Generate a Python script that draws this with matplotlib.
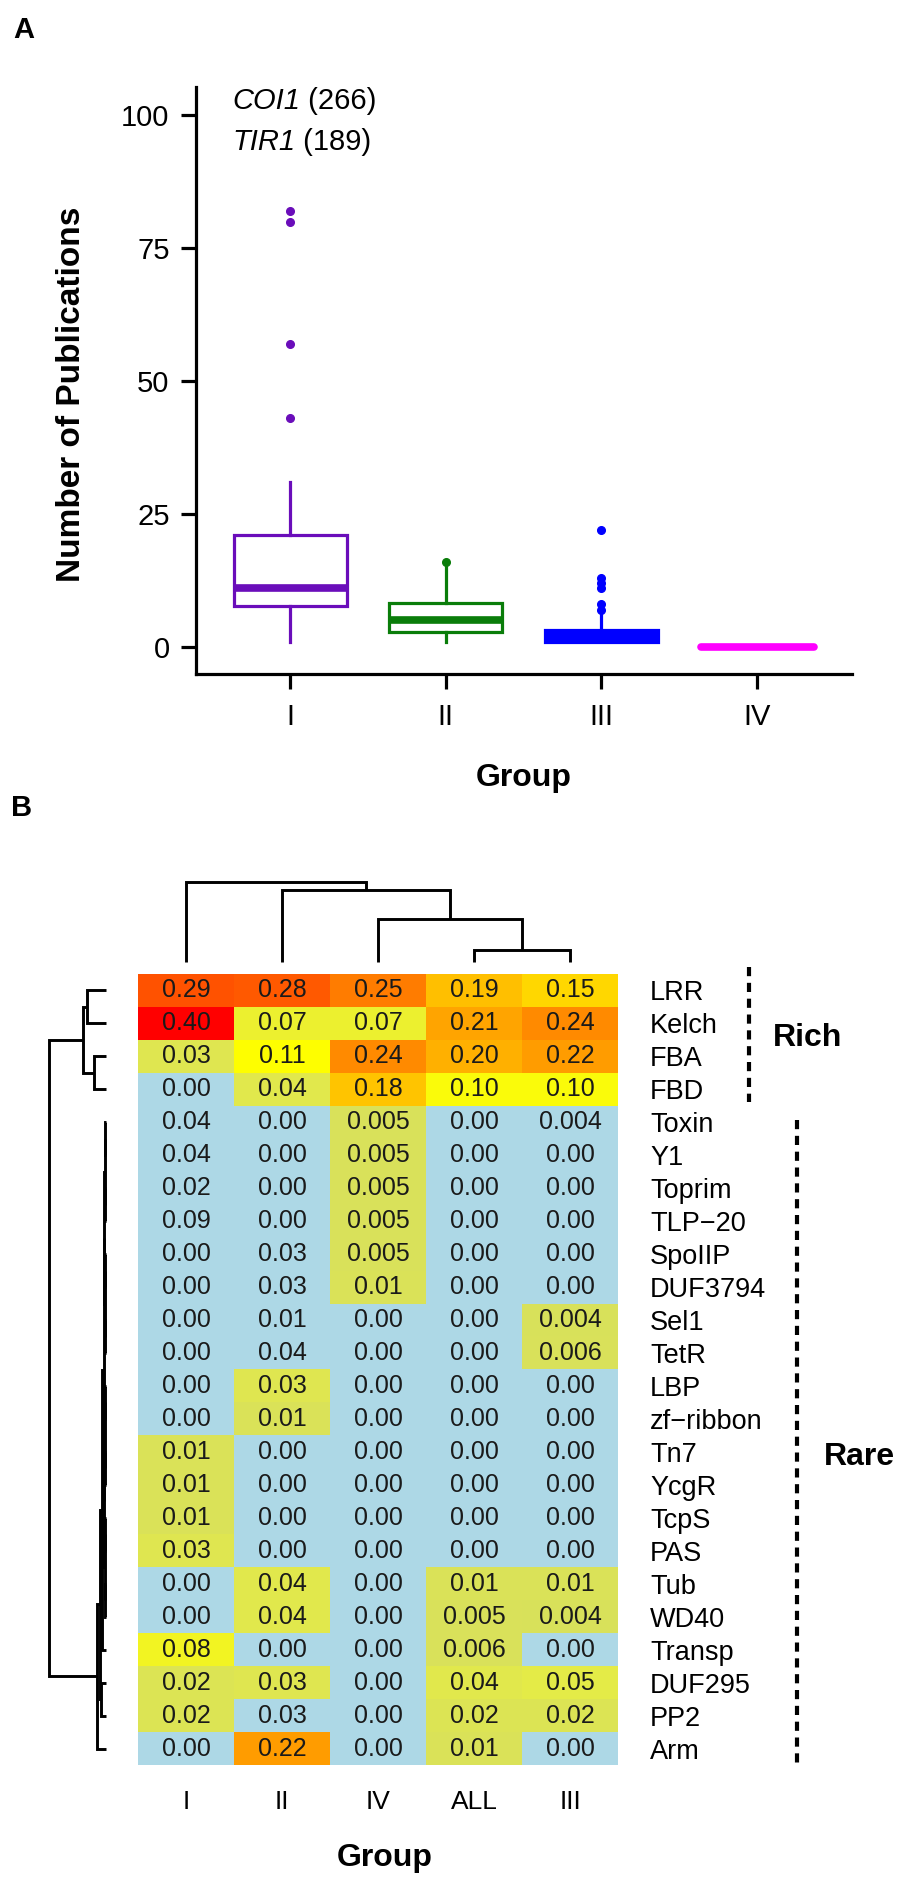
import numpy as np
import matplotlib
matplotlib.use("Agg")
import matplotlib.pyplot as plt
from matplotlib.colors import LinearSegmentedColormap, to_rgba

plt.rcParams['font.family'] = ['Liberation Sans', 'DejaVu Sans']

# ---------------- panel A: publications per group ----------------
groups = ['I', 'II', 'III', 'IV']
box_colors = ['#6a0dba', '#0a7d0a', '#0000ff', '#ff00ff']
q1 = [7.6, 2.8, 1.0, 0.0]
med = [11.0, 5.0, 2.0, 0.0]
q3 = [21.0, 8.2, 3.2, 0.0]
whis_lo = [1.0, 1.0, 1.0, 0.0]
whis_hi = [31.0, 15.0, 6.0, 0.0]
outliers = [[43, 57, 80, 82], [16], [7, 8, 11, 12, 13, 22], []]

# ---------------- panel B: domain frequency heatmap ----------------
hm_cols = ['I', 'II', 'IV', 'ALL', 'III']
domains = ['LRR', 'Kelch', 'FBA', 'FBD', 'Toxin', 'Y1', 'Toprim', 'TLP\u221220',
           'SpoIIP', 'DUF3794', 'Sel1', 'TetR', 'LBP', 'zf\u2212ribbon', 'Tn7',
           'YcgR', 'TcpS', 'PAS', 'Tub', 'WD40', 'Transp', 'DUF295', 'PP2', 'Arm']
cells = [
    ['0.29', '0.28', '0.25', '0.19', '0.15'],
    ['0.40', '0.07', '0.07', '0.21', '0.24'],
    ['0.03', '0.11', '0.24', '0.20', '0.22'],
    ['0.00', '0.04', '0.18', '0.10', '0.10'],
    ['0.04', '0.00', '0.005', '0.00', '0.004'],
    ['0.04', '0.00', '0.005', '0.00', '0.00'],
    ['0.02', '0.00', '0.005', '0.00', '0.00'],
    ['0.09', '0.00', '0.005', '0.00', '0.00'],
    ['0.00', '0.03', '0.005', '0.00', '0.00'],
    ['0.00', '0.03', '0.01', '0.00', '0.00'],
    ['0.00', '0.01', '0.00', '0.00', '0.004'],
    ['0.00', '0.04', '0.00', '0.00', '0.006'],
    ['0.00', '0.03', '0.00', '0.00', '0.00'],
    ['0.00', '0.01', '0.00', '0.00', '0.00'],
    ['0.01', '0.00', '0.00', '0.00', '0.00'],
    ['0.01', '0.00', '0.00', '0.00', '0.00'],
    ['0.01', '0.00', '0.00', '0.00', '0.00'],
    ['0.03', '0.00', '0.00', '0.00', '0.00'],
    ['0.00', '0.04', '0.00', '0.01', '0.01'],
    ['0.00', '0.04', '0.00', '0.005', '0.004'],
    ['0.08', '0.00', '0.00', '0.006', '0.00'],
    ['0.02', '0.03', '0.00', '0.04', '0.05'],
    ['0.02', '0.03', '0.00', '0.02', '0.02'],
    ['0.00', '0.22', '0.00', '0.01', '0.00'],
]
# 1 = cell drawn in heat colour, 0 = drawn light blue (as in the figure)
shaded = [
    [1, 1, 1, 1, 1], [1, 1, 1, 1, 1], [1, 1, 1, 1, 1], [0, 1, 1, 1, 1],
    [0, 0, 1, 0, 0], [0, 0, 1, 0, 0], [0, 0, 1, 0, 0], [0, 0, 1, 0, 0],
    [0, 0, 1, 0, 0], [0, 0, 1, 0, 0], [0, 0, 0, 0, 1], [0, 0, 0, 0, 1],
    [0, 1, 0, 0, 0], [0, 1, 0, 0, 0], [1, 0, 0, 0, 0], [1, 0, 0, 0, 0],
    [1, 0, 0, 0, 0], [1, 0, 0, 0, 0], [0, 1, 0, 1, 1], [0, 1, 0, 1, 1],
    [1, 0, 0, 1, 0], [1, 1, 0, 1, 1], [1, 0, 0, 1, 1], [0, 1, 0, 1, 0],
]
# dendrogram merges (left, right, height)
col_links = [(3, 4, 12), (2, 5, 43), (1, 6, 72), (0, 7, 80)]
row_links = [(4, 5, 0.6), (6, 7, 0.6), (8, 9, 0.6), (10, 11, 0.6), (12, 13, 0.6),
             (14, 15, 0.6), (16, 17, 0.6), (18, 19, 0.6),
             (24, 25, 1.2), (26, 27, 1.2), (28, 29, 1.2), (30, 31, 1.2),
             (32, 33, 1.8), (34, 35, 1.8), (36, 37, 2.4),
             (38, 20, 4), (21, 22, 5), (39, 40, 6), (41, 23, 9),
             (0, 1, 19), (2, 3, 12), (43, 44, 23), (45, 42, 57)]

W, H = 900, 1879
fig = plt.figure(figsize=(W / 100, H / 100), dpi=100)


def px_axes(x0, y0, x1, y1):
    return fig.add_axes([x0 / W, 1 - y1 / H, (x1 - x0) / W, (y1 - y0) / H])


def draw_tree(ax, links, n, sideways=False):
    pos = [float(i) for i in range(n)]
    hgt = [0.0] * n
    for a, b, h in links:
        xs = [pos[a], pos[a], pos[b], pos[b]]
        ys = [hgt[a], h, h, hgt[b]]
        if sideways:
            xs, ys = ys, xs
        ax.plot(xs, ys, color='black', lw=2.1, clip_on=False,
                solid_joinstyle='miter', solid_capstyle='butt')
        pos.append((pos[a] + pos[b]) / 2)
        hgt.append(h)


# ---------- panel A ----------
axA = px_axes(196, 87, 852, 674)
for k in range(len(groups)):
    c = box_colors[k]
    st = dict(med=med[k], q1=q1[k], q3=q3[k], whislo=whis_lo[k],
              whishi=whis_hi[k], fliers=outliers[k])
    axA.bxp([st], positions=[k + 1], widths=0.726, patch_artist=True,
            showcaps=False,
            boxprops=dict(facecolor='white' if k < 2 else c, edgecolor=c,
                          linewidth=2.3),
            medianprops=dict(color=c, linewidth=5.5,
                             solid_capstyle='round' if k == 3 else 'butt'),
            whiskerprops=dict(color=c, linewidth=2.3),
            flierprops=dict(marker='o', markerfacecolor=c, markeredgecolor=c,
                            markersize=5.5))
axA.set_xlim(0.396, 4.61)
axA.set_ylim(-5.1, 105.3)
axA.set_xticks(range(1, 5))
axA.set_xticklabels(groups)
axA.set_yticks([0, 25, 50, 75, 100])
for s in ['top', 'right']:
    axA.spines[s].set_visible(False)
for s in ['left', 'bottom']:
    axA.spines[s].set_linewidth(2.3)
axA.tick_params(length=11, width=2.3, labelsize=21)
axA.tick_params(axis='y', pad=8)
axA.tick_params(axis='x', pad=10)

# ---------- panel B ----------
heat = LinearSegmentedColormap.from_list('heat', [
    (0.0, '#d8e15c'), (0.125, '#e4eb48'), (0.2, '#f2f422'), (0.275, '#ffff00'),
    (0.375, '#ffd700'), (0.475, '#ffbf00'), (0.525, '#ffa500'),
    (0.6, '#ff8a00'), (0.7, '#ff5a00'), (1.0, '#ff0000')])
vals = np.array([[float(v) for v in row] for row in cells])
mask = np.array(shaded)
rgb = np.zeros(vals.shape + (4,))
for i in range(vals.shape[0]):
    for j in range(vals.shape[1]):
        rgb[i, j] = heat(vals[i, j] / 0.40) if mask[i, j] else to_rgba('#add8e6')

axH = px_axes(138, 974, 618, 1765)
axH.imshow(rgb, aspect='auto', interpolation='nearest')
for i in range(vals.shape[0]):
    for j in range(vals.shape[1]):
        axH.text(j, i, cells[i][j], ha='center', va='center', fontsize=18,
                 color='#1a1a1a')
axH.set_xticks(range(len(hm_cols)))
axH.set_xticklabels(hm_cols, fontsize=19)
axH.set_yticks(range(len(domains)))
axH.set_yticklabels(domains, fontsize=19.5)
axH.yaxis.tick_right()
axH.tick_params(axis='y', length=0, pad=23)
axH.tick_params(axis='x', length=0, pad=18)
for s in axH.spines.values():
    s.set_visible(False)

axT = px_axes(138, 882, 618, 962)
draw_tree(axT, col_links, len(hm_cols))
axT.set_xlim(-0.5, 4.5)
axT.set_ylim(0, 80)
axT.axis('off')

axL = px_axes(49, 974, 106, 1765)
draw_tree(axL, row_links, len(domains), sideways=True)
axL.set_xlim(57, 0)
axL.set_ylim(23.5, -0.5)
axL.axis('off')

# overlay on top for free text and bracket lines
ov = fig.add_axes([0, 0, 1, 1])
ov.set_zorder(10)
ov.set_xlim(0, W)
ov.set_ylim(H, 0)
ov.axis('off')

t1 = ov.text(232, 101, 'COI1', fontsize=21, style='italic', va='center')
ov.annotate(' (266)', xy=(1, 0.5), xycoords=t1, fontsize=21, va='center')
t2 = ov.text(232, 142, 'TIR1', fontsize=21, style='italic', va='center')
ov.annotate(' (189)', xy=(1, 0.5), xycoords=t2, fontsize=21, va='center')

ov.text(72, 394, 'Number of Publications', rotation=90, fontsize=24,
        fontweight='bold', ha='center', va='center')
ov.text(524, 778, 'Group', fontsize=23, fontweight='bold', ha='center', va='center')
ov.text(24, 30, 'A', fontsize=21, fontweight='bold', ha='center', va='center')
ov.text(22, 808, 'B', fontsize=21, fontweight='bold', ha='center', va='center')

ov.plot([749, 749], [967, 1102], color='black', lw=3, ls=(0, (2.2, 1.6)))
ov.plot([797, 797], [1120, 1768], color='black', lw=3, ls=(0, (2.2, 1.6)))
ov.text(808, 1038, 'Rich', fontsize=23, fontweight='bold', ha='center', va='center')
ov.text(859, 1457, 'Rare', fontsize=23, fontweight='bold', ha='center', va='center')
ov.text(385, 1858, 'Group', fontsize=23, fontweight='bold', ha='center', va='center')

fig.savefig('out.png', dpi=100)
